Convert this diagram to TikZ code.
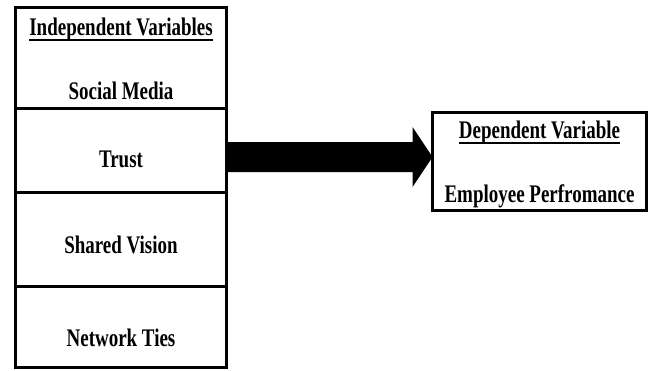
\documentclass[tikz,border=0pt]{standalone}
\usepackage{fontspec}
\setmainfont{Liberation Serif}[FakeStretch=0.75]
\usetikzlibrary{calc}
\newcommand\myul[1]{\setbox0\hbox{#1}\rlap{\rule[-5.5pt]{\wd0}{1.6pt}}\box0}
\begin{document}
\begin{tikzpicture}[x=1pt,y=-1pt,
  box/.style={draw, line width=3pt, inner sep=0pt, outer sep=0pt},
  lbl/.style={font=\fontsize{25.3}{30}\selectfont\bfseries, anchor=base, inner sep=0pt}]
\useasboundingbox (0,0) rectangle (654,370);
% left column
\node[box, minimum width=211pt, minimum height=101pt] (iv) at (121,57.5) {};
\node[box, minimum width=211pt, minimum height=84pt] (trust) at (121,150) {};
\node[box, minimum width=211pt, minimum height=94pt] (sv) at (121,239) {};
\node[box, minimum width=211pt, minimum height=81pt] (nt) at (121,326.5) {};
% right box
\node[box, minimum width=214pt, minimum height=98pt] (dep) at (539.5,161) {};
% texts
\node[lbl] (tiv) at (121,35) {\myul{Independent Variables}};
\node[lbl] (tsm) at (121,99) {Social Media};
\node[lbl] (ttr) at (121,167) {Trust};
\node[lbl] (tsv) at (121,253) {Shared Vision};
\node[lbl] (tnt) at (121,346) {Network Ties};
\node[lbl] (tdv) at (539.5,138) {\myul{Dependent Variable}};
\node[lbl] (tep) at (539.5,202) {Employee Perfromance};
% arrow
\coordinate (tip) at ($(dep.west)+(0,-4)$);
\coordinate (tail) at (trust.east |- tip);
\fill ($(tail)+(0,-15)$) -- ($(tip)+(-20,-15)$) -- ($(tip)+(-20,-30)$) -- (tip)
  -- ($(tip)+(-20,30)$) -- ($(tip)+(-20,15)$) -- ($(tail)+(0,15)$) -- cycle;
\end{tikzpicture}
\end{document}
